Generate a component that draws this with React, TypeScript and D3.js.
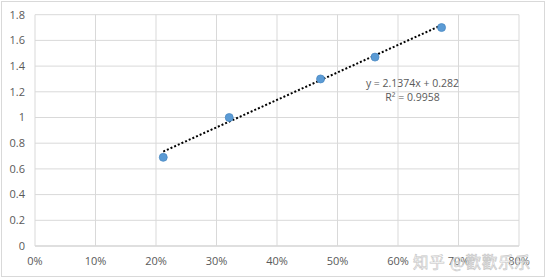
import React from "react";
import * as d3 from "d3";

const xValues = [0.212, 0.321, 0.472, 0.562, 0.672];
const yValues = [0.69, 1.0, 1.3, 1.47, 1.7];
const xTicks = [0, 0.1, 0.2, 0.3, 0.4, 0.5, 0.6, 0.7, 0.8];
const yTicks = [0, 0.2, 0.4, 0.6, 0.8, 1, 1.2, 1.4, 1.6, 1.8];
const slope = 2.1374;
const intercept = 0.282;
const equationLines = ["y = 2.1374x + 0.282", "R² = 0.9958"];
const watermark = "知乎 @歡歡乐乐";

const W = 546;
const H = 279;

export default function App() {
  const x = d3.scaleLinear().domain([0, 0.8]).range([35, 519]);
  const y = d3.scaleLinear().domain([0, 1.8]).range([246, 14.7]);
  const fmtX = d3.format(".0%");
  const fmtY = (v: number) => String(Math.round(v * 10) / 10);
  const [x0, x1] = d3.extent(xValues) as [number, number];
  const trend = d3.line<number>()
    .x((d) => x(d))
    .y((d) => y(slope * d + intercept));
  const font = "'Open Sans', 'Liberation Sans', sans-serif";
  return (
    <svg width={W} height={H} style={{ position: "absolute", left: 0, top: 0, background: "#fff" }}>
      <rect x={1.5} y={1.5} width={W - 3} height={H - 4} fill="#fff" stroke="#d9d9d9" />
      {yTicks.map((t) => (
        <line key={"gy" + t} x1={x(0)} x2={x(0.8)} y1={y(t)} y2={y(t)} stroke={t === 0 ? "#bfbfbf" : "#d9d9d9"} strokeWidth={1} />
      ))}
      {xTicks.map((t) => (
        <line key={"gx" + t} x1={x(t)} x2={x(t)} y1={y(0)} y2={y(1.8)} stroke="#d9d9d9" strokeWidth={1} />
      ))}
      {yTicks.map((t) => (
        <text key={"ty" + t} x={25} y={y(t)} dy="0.35em" textAnchor="end" fontSize={11} fill="#595959" fontFamily={font}>
          {fmtY(t)}
        </text>
      ))}
      {xTicks.map((t) => (
        <text key={"tx" + t} x={x(t)} y={261} dy="0.35em" textAnchor="middle" fontSize={11} fill="#595959" fontFamily={font}>
          {fmtX(t)}
        </text>
      ))}
      <path d={trend([x0, x1]) || ""} fill="none" stroke="#000" strokeWidth={2} strokeDasharray="2,2" />
      {xValues.map((v, i) => (
        <circle key={"p" + i} cx={x(v)} cy={y(yValues[i])} r={4} fill="#5b9bd5" stroke="#4a88c2" strokeWidth={0.75} />
      ))}
      {equationLines.map((s, i) => (
        <text key={"eq" + i} x={412.5} y={87 + i * 14} textAnchor="middle" fontSize={10.5} fill="#595959" fontFamily={font}>
          {s}
        </text>
      ))}
      <text x={413} y={268} fontSize={15.5} fill="#ffffff" fillOpacity={0.6} stroke="#c4c4c4" strokeWidth={0.6} fontFamily="'Noto Sans CJK SC', sans-serif" textLength={117}>
        {watermark}
      </text>
    </svg>
  );
}
